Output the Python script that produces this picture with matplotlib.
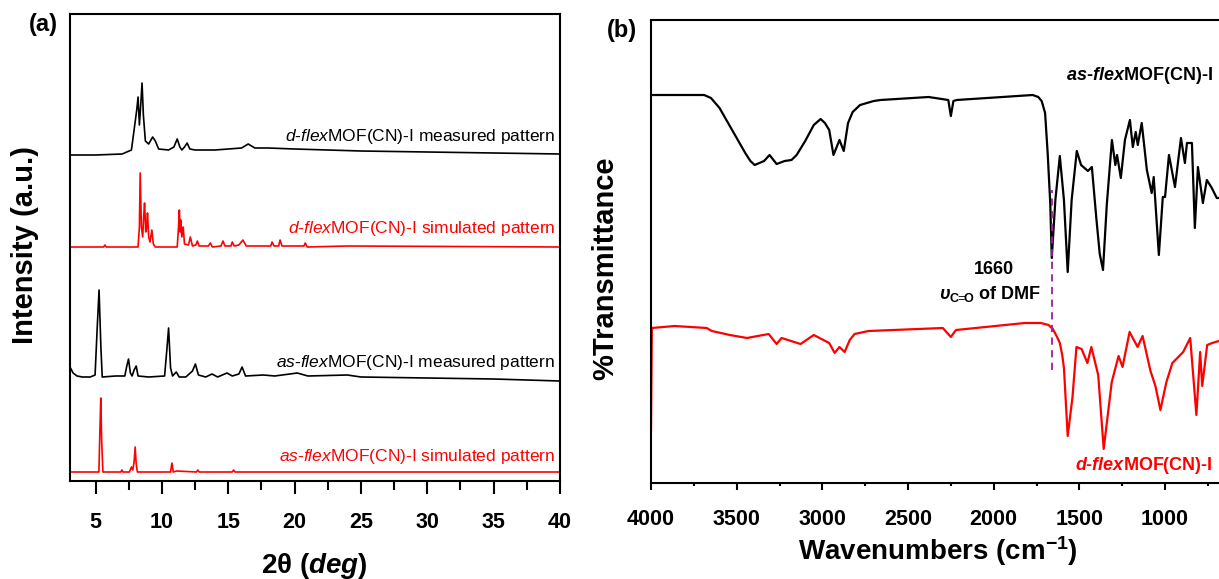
import numpy as np
import matplotlib.pyplot as plt
from matplotlib.ticker import MultipleLocator

plt.rcParams['font.family'] = ['Liberation Sans', 'DejaVu Sans']
plt.rcParams['mathtext.fontset'] = 'custom'
plt.rcParams['mathtext.rm'] = 'Liberation Sans'
plt.rcParams['mathtext.it'] = 'Liberation Sans:italic'
plt.rcParams['mathtext.bf'] = 'Liberation Sans:bold'
plt.rcParams['mathtext.bfit'] = 'Liberation Sans:italic:bold'

# ---- (a) PXRD patterns: 2theta (deg) vs intensity (a.u., above own baseline)
tt_d_meas = [3.07, 5.0, 7.0, 7.7, 7.95, 8.1, 8.2, 8.3, 8.4, 8.5, 8.6, 8.75, 9.0, 9.3, 9.5,
             9.75, 10.5, 10.9, 11.15, 11.35, 11.5, 11.7, 11.9, 12.1, 12.5, 14.0, 16.0,
             16.5, 17.0, 18.0, 20.0, 25.0, 30.0, 35.0, 40.0]
I_d_meas = [0, 0, 1, 5, 30, 45, 58, 30, 50, 72, 40, 14, 11, 18, 14,
            6, 5, 8, 16, 8, 5, 8, 12, 6, 5, 5, 7,
            11, 7, 7, 6, 4, 3, 2, 1]

tt_d_sim = [3.07, 5.6, 5.7, 5.8, 8.2, 8.3, 8.36, 8.45, 8.55, 8.62, 8.69, 8.78, 8.85, 8.91,
            9.0, 9.1, 9.24, 9.35, 9.5, 11.15, 11.25, 11.31, 11.38, 11.43, 11.5, 11.6, 11.7,
            12.0, 12.14, 12.3, 12.55, 12.67, 12.8, 13.5, 13.65, 13.8, 14.45, 14.6, 14.75,
            15.2, 15.3, 15.45, 15.8, 16.1, 16.35, 17.0, 18.2, 18.3, 18.45, 18.8, 18.9,
            19.05, 20.7, 20.8, 20.95, 24.0, 40.0]
I_d_sim = [0, 0, 2, 0, 0, 20, 74, 20, 10, 30, 44, 15, 20, 34,
           10, 5, 17, 3, 0, 0, 20, 37, 15, 27, 10, 20, 3,
           2, 10, 1, 2, 6, 1, 1, 4, 0, 1, 6, 1,
           1, 5, 1, 2, 7, 1, 1, 1, 5, 1, 1, 7,
           1, 1, 4, 0, 1, 0]

tt_as_meas = [3.07, 3.3, 3.6, 4.0, 4.6, 4.96, 5.12, 5.26, 5.4, 5.5, 6.5, 7.2, 7.35, 7.48,
              7.62, 7.75, 7.9, 8.06, 8.2, 9.0, 10.2, 10.38, 10.5, 10.65, 10.8, 11.08,
              11.3, 11.8, 12.3, 12.52, 12.75, 13.3, 13.77, 14.2, 14.9, 15.3, 15.8, 16.04,
              16.3, 17.65, 18.5, 20.2, 21.0, 23.97, 25.0, 30.0, 35.0, 40.0]
I_as_meas = [11, 5, 2, 1, 1, 3, 50, 88, 30, 1, 2, 2, 12, 19,
             5, 2, 8, 12, 2, 1, 2, 30, 50, 10, 2, 6,
             1, 1, 7, 14, 3, 1, 4, 1, 5, 2, 4, 11,
             2, 3, 2, 5, 2, 3, 1, 0, -1, -3]

tt_as_sim = [3.07, 5.25, 5.32, 5.39, 5.46, 5.55, 6.9, 6.98, 7.06, 7.55, 7.7, 7.8, 7.9,
             7.98, 8.06, 8.15, 10.65, 10.75, 10.85, 11.1, 12.6, 12.7, 12.8, 15.3, 15.4,
             15.5, 40.0]
I_as_sim = [0, 0, 40, 74, 30, 0, 0, 2, 0, 0, 5, 2, 10,
            25, 8, 0, 0, 9, 0, 1, 0, 2, 0, 0, 2,
            0, 0]

xrd_offsets = [326, 234, 103, 9]
xrd_labels = [r'$\mathit{d}$-$\mathit{flex}$MOF(CN)-I measured pattern',
              r'$\mathit{d}$-$\mathit{flex}$MOF(CN)-I simulated pattern',
              r'$\mathit{as}$-$\mathit{flex}$MOF(CN)-I measured pattern',
              r'$\mathit{as}$-$\mathit{flex}$MOF(CN)-I simulated pattern']
xrd_colors = ['black', 'red', 'black', 'red']

# ---- (b) FTIR: wavenumber (cm-1) vs transmittance (a.u.)
wn_as = [4000, 3990, 3690, 3650, 3600, 3550, 3500, 3450, 3420, 3395, 3340, 3308, 3267,
         3220, 3180, 3150, 3100, 3050, 3010, 2985, 2960, 2935, 2900, 2875, 2850, 2823,
         2780, 2700, 2660, 2380, 2265, 2250, 2235, 2216, 1772, 1740, 1720, 1700, 1685,
         1670, 1661, 1640, 1614, 1590, 1568, 1545, 1515, 1490, 1450, 1427, 1400, 1381,
         1362, 1340, 1310, 1290, 1280, 1258, 1234, 1205, 1188, 1171, 1159, 1136, 1106,
         1078, 1066, 1036, 1013, 1000, 977, 942, 907, 884, 872, 843, 826, 808, 779, 756,
         727, 698, 650]
T_as = [388, 388, 388, 385, 375, 360, 345, 330, 322, 318, 322, 328, 319,
        322, 323, 328, 342, 358, 364, 360, 353, 328, 343, 332, 360, 371,
        378, 382, 383, 386, 383, 367, 382, 383, 388, 386, 382, 370, 330,
        280, 225, 283, 327, 283, 211, 283, 332, 318, 312, 316, 263, 229,
        213, 278, 343, 318, 328, 305, 343, 363, 336, 351, 338, 360, 313,
        290, 306, 228, 286, 286, 328, 296, 345, 320, 340, 340, 255, 316, 280, 303,
        295, 285, 285]

wn_d = [4000, 3995, 3862, 3675, 3645, 3540, 3440, 3313, 3267, 3238, 3127, 3050, 2960,
        2928, 2900, 2870, 2840, 2812, 2730, 2297, 2250, 2220, 1818, 1725, 1680, 1655,
        1630, 1614, 1600, 1590, 1568, 1540, 1517, 1487, 1453, 1430, 1390, 1358, 1311,
        1271, 1248, 1207, 1160, 1131, 1085, 1056, 1027, 992, 957, 894, 853, 817, 795,
        783, 754, 725, 686, 650]
T_d = [53, 155, 157, 155, 152, 148, 145, 149, 139, 145, 139, 148, 140,
       130, 136, 131, 143, 149, 152, 155, 146, 153, 160, 160, 158, 154,
       146, 140, 128, 115, 47, 86, 136, 134, 120, 136, 108, 34, 101,
       127, 116, 151, 136, 147, 112, 97, 73, 101, 120, 131, 145, 68, 131,
       97, 138, 140, 142, 142]

dmf_wn = 1660
dmf_span = [113, 293]

fig = plt.figure(figsize=(12.19, 5.79), dpi=100)
W, H = 1219, 579
axa = fig.add_axes([70 / W, 1 - 481 / H, 490 / W, 467 / H])
axb = fig.add_axes([651 / W, 1 - 483 / H, 574 / W, 463 / H])

xrd = [(tt_d_meas, I_d_meas), (tt_d_sim, I_d_sim), (tt_as_meas, I_as_meas), (tt_as_sim, I_as_sim)]
label_y = [137, 228, 362, 457]
for (tt, inten), off, col, lab, ly in zip(xrd, xrd_offsets, xrd_colors, xrd_labels, label_y):
    axa.plot(tt, np.array(inten) + off, color=col, lw=1.2)
    fig.text(555 / W, 1 - ly / H, lab, color=col, fontsize=12.5, ha='right', va='center')

axa.set_xlim(3.07, 40)
axa.set_ylim(0, 467)
axa.set_yticks([])
axa.xaxis.set_major_locator(MultipleLocator(5))
axa.xaxis.set_minor_locator(MultipleLocator(2.5))
axa.tick_params(axis='x', which='major', length=9, width=1.5, pad=13, labelsize=15.5)
axa.tick_params(axis='x', which='minor', length=6.5, width=1.5)
for lab in axa.get_xticklabels():
    lab.set_fontweight('bold')

axb.plot(wn_as, T_as, color='black', lw=1.6)
axb.plot(wn_d, T_d, color='red', lw=1.6)
axb.plot([dmf_wn, dmf_wn], dmf_span, color='#9b1fa0', lw=1.3, ls=(0, (4, 3)))
axb.set_xlim(4000, 650)
axb.set_ylim(0, 463)
axb.set_yticks([])
axb.xaxis.set_major_locator(MultipleLocator(500))
axb.xaxis.set_minor_locator(MultipleLocator(250))
axb.tick_params(axis='x', which='major', length=5, width=1.5, pad=14, labelsize=15.5)
axb.tick_params(axis='x', which='minor', length=2.5, width=1.5)
for lab in axb.get_xticklabels():
    lab.set_fontweight('bold')

for ax in (axa, axb):
    for sp in ax.spines.values():
        sp.set_linewidth(1.5)

fig.text(1213 / W, 1 - 75 / H, r'$\mathbfit{as}$-$\mathbfit{flex}$MOF(CN)-I',
         fontsize=13, fontweight='bold', ha='right', va='center')
fig.text(1213 / W, 1 - 466 / H, r'$\mathbfit{d}$-$\mathbfit{flex}$MOF(CN)-I',
         color='red', fontsize=13, fontweight='bold', ha='right', va='center')
fig.text(994 / W, 1 - 270 / H, '1660', fontsize=13, fontweight='bold',
         ha='center', va='center')
fig.text(1041 / W, 1 - 294 / H, r'$\mathbfit{υ}_{\mathbf{C}\!\!=\!\!\mathbf{O}}$ of DMF',
         fontsize=13, fontweight='bold', ha='right', va='center')

fig.text(43 / W, 1 - 25 / H, '(a)', fontsize=17, fontweight='bold', ha='center', va='center')
fig.text(622 / W, 1 - 30 / H, '(b)', fontsize=17, fontweight='bold', ha='center', va='center')
fig.text(25 / W, 1 - 245 / H, 'Intensity (a.u.)', fontsize=21, fontweight='bold',
         rotation=90, ha='center', va='center')
fig.text(605 / W, 1 - 268 / H, '%Transmittance', fontsize=21, fontweight='bold',
         rotation=90, ha='center', va='center')
fig.text(314 / W, 1 - 566 / H, r'2$\mathbf{\theta}$ ($\mathbfit{deg}$)', fontsize=20,
         fontweight='bold', ha='center', va='center')
fig.text(938 / W, 1 - 551 / H, r'Wavenumbers (cm$^{\mathbf{-1}}$)', fontsize=20,
         fontweight='bold', ha='center', va='center')

fig.savefig('out.png', dpi=100)
